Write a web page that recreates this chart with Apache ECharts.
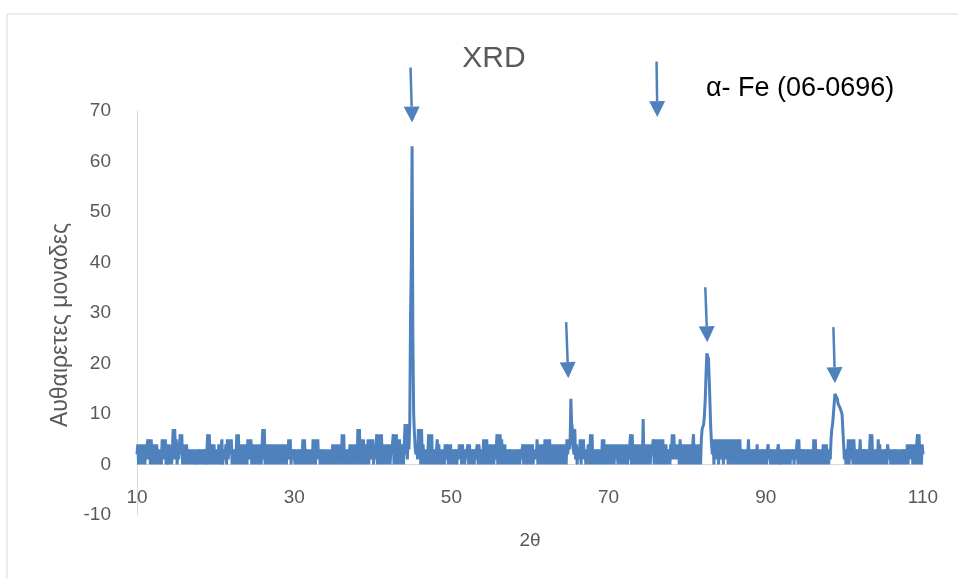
<!DOCTYPE html>
<html>
<head>
<meta charset="utf-8">
<title>XRD</title>
<script src="https://cdn.jsdelivr.net/npm/echarts@6/dist/echarts.min.js"></script>
<style>
  html, body { margin: 0; padding: 0; background: #fff; }
  #chart { width: 958px; height: 579px; }
</style>
</head>
<body>
<div id="chart"></div>
<script>
// 2θ scan: starts at 10°, one reading every 0.1°
var startAngle = 10;
var stepAngle = 0.1;

// intensity readings, one row = one degree (x.0 ... x.9)
var scan10to30 = [
  2,4,0,3,1,4,0,3,2,4,  0,3,1,4,5,1,5,0,5,2,  0,4,1,3,0,4,2,0,3,1,  3,0,5,2,5,1,5,0,4,1,
  0,4,2,3,0,3,7,1,7,2,  5,0,3,1,4,6,2,6,0,4,  1,3,0,4,2,3,0,3,1,3,  0,3,1,2,0,3,1,0,3,2,
  0,3,1,3,0,2,3,0,1,3,  6,0,6,1,3,0,4,2,4,0,  3,1,3,0,4,2,0,3,5,0,  0,3,1,4,0,5,1,3,5,2,
  5,0,3,1,3,0,2,6,0,6,  1,4,0,3,2,4,0,3,1,4,  0,5,2,5,1,5,0,4,2,3,  0,4,1,3,0,4,2,4,0,3,
  7,1,7,0,3,1,4,0,4,2,  0,4,1,3,0,4,2,4,0,3,  2,4,0,3,1,4,0,4,2,4,  0,3,1,5,2,5,0,3,1,3
];
var scan30to50 = [
  2,0,3,1,3,0,2,3,0,3,  1,5,0,5,2,3,0,3,1,3,  0,3,2,0,5,1,5,0,5,2,  5,1,3,0,3,2,0,3,1,3,
  0,3,1,2,0,3,1,3,0,4,  1,4,0,3,2,4,0,3,1,4,  0,6,2,6,0,3,1,3,0,3,  2,4,0,4,1,3,0,4,2,3,
  0,7,1,7,0,3,5,0,5,2,  3,0,4,1,5,0,5,2,5,1,  5,0,4,1,3,6,0,6,2,6,  0,6,1,4,0,3,2,4,0,4,
  1,4,0,3,2,4,6,0,6,1,  6,0,5,1,5,0,3,2,4,0,  0,8,2,7,1,8,3,8,29,40, 63,25,10,6,3,2,4,1,7,2,
  7,0,7,1,4,0,3,1,3,0,  2,6,0,6,1,6,0,3,1,3,  0,3,5,0,4,1,3,0,3,1,  3,0,4,1,3,4,0,4,2,4
];
var scan50to70 = [
  0,3,1,3,0,2,3,0,3,1,  4,1,4,0,4,2,3,0,3,1,  3,4,0,4,1,3,0,3,2,0,  3,1,3,4,0,4,2,3,0,3,
  1,5,0,5,2,5,0,3,1,4,  0,4,2,3,0,4,1,3,6,0,  6,0,6,1,5,0,4,1,4,0,  3,1,3,0,2,3,0,3,1,2,
  0,3,1,3,0,2,3,0,3,1,  3,4,0,4,1,4,0,4,2,4,  0,4,1,4,0,3,2,3,1,5,  0,3,1,4,0,4,2,4,0,5,
  2,5,0,5,1,5,0,4,1,4,  0,4,2,4,0,4,1,4,0,4,  1,4,0,4,2,4,0,5,2,5,  3,4,13,8,7,3,2,7,1,4,
  0,3,1,3,5,0,5,2,5,1,  3,0,3,1,4,0,2,6,0,6,  0,3,1,3,0,2,3,0,3,1,  3,0,5,1,5,0,4,2,4,0
];
var scan70to90 = [
  4,1,4,0,3,2,4,0,4,1,  4,4,0,4,2,3,0,4,1,3,  0,4,2,4,0,3,1,4,6,0,  6,1,4,0,3,2,4,0,4,1,
  3,0,4,1,9,0,4,2,3,0,  4,1,4,0,3,2,4,5,0,5,  1,5,0,5,2,4,0,5,1,5,  0,4,2,4,0,3,1,3,0,4,
  2,6,1,6,2,4,1,4,2,3,  0,5,1,4,0,4,2,4,0,3,  1,4,0,4,2,3,0,4,6,0,  4,1,3,0,4,2,4,0,5,7,
  7,8,10,13,18,22,22,21,17,12,  7,4,2,5,0,5,1,5,2,5,  0,5,2,5,1,5,0,5,2,4,  1,5,0,5,2,5,0,4,1,5,
  0,5,2,5,0,5,1,5,0,3,  2,3,0,3,1,3,0,2,5,0,  3,1,3,0,2,3,0,3,1,4,  0,3,1,3,0,2,3,0,3,1
];
var scan90to110 = [
  3,0,3,4,1,3,0,3,2,0,  3,1,3,0,2,3,4,0,3,1,  0,3,1,2,0,3,1,3,0,2,  3,0,3,1,2,3,0,3,1,3,
  5,0,5,1,3,0,3,2,3,0,  3,1,3,0,2,3,0,3,1,3,  0,5,1,5,0,3,2,3,0,3,  1,3,0,4,1,4,0,4,2,3,
  0,3,1,5,7,8,10,12,14,14,  14,13,12,12,12,11,11,10,7,4,  1,3,0,3,2,5,0,5,1,5,  5,0,5,2,3,0,3,1,3,0,
  5,1,3,0,3,2,3,0,3,1,  3,0,3,6,0,6,1,3,0,3,  1,3,0,5,2,4,0,3,1,3,  0,3,2,3,0,4,4,1,3,0,
  3,1,3,0,2,3,0,3,1,2,  0,3,1,3,0,2,3,0,3,1,  4,0,4,2,4,1,4,0,4,2,  4,0,4,6,0,6,1,4,0,4,
  2
];

// axis ticks
var xTicks = [10, 30, 50, 70, 90, 110];
var yTicks = [-10, 0, 10, 20, 30, 40, 50, 60, 70];

// marker arrows [2θ top, y top, 2θ tip, y tip]
var peakArrows = [
  [44.8, 78.6, 45.0, 67.7],
  [76.1, 79.8, 76.2, 68.8],
  [64.6, 28.2, 64.87, 17.1],
  [82.3, 35.1, 82.56, 24.2],
  [98.6, 27.2, 98.8, 16.1]
];
var legendText = 'α- Fe (06-0696)';

var lineColor = '#4f81bd';
var fontFam = "'Liberation Sans', sans-serif";

var counts = scan10to30.concat(scan30to50, scan50to70, scan70to90, scan90to110);
var points = [];
for (var i = 0; i < counts.length; i++) {
  points.push([+(startAngle + i * stepAngle).toFixed(1), counts[i]]);
}

var gridTop = 111, gridBottom = 64;
var gridH = 579 - gridTop - gridBottom;
// pixels between y=-10 (grid bottom) and y=0, where Excel puts the x axis
var zeroOffset = gridH * (0 - yTicks[0]) / (yTicks[yTicks.length - 1] - yTicks[0]);

var myChart = echarts.init(document.getElementById('chart'), null, {renderer: 'canvas'});

var option = {
  animation: false,
  backgroundColor: '#fff',
  title: {
    text: 'XRD',
    left: 489,
    top: 39,
    textAlign: 'center',
    textStyle: {color: '#595959', fontSize: 30, fontWeight: 'normal', fontFamily: fontFam}
  },
  grid: {left: 137, right: 35, top: gridTop, bottom: gridBottom, containLabel: false, outerBoundsMode: 'none'},
  xAxis: {
    type: 'value',
    min: xTicks[0],
    max: xTicks[xTicks.length - 1],
    interval: xTicks[1] - xTicks[0],
    offset: -zeroOffset,
    name: '2θ',
    nameLocation: 'middle',
    nameGap: 67,
    nameTextStyle: {color: '#595959', fontSize: 19, fontFamily: fontFam},
    axisLine: {show: true, onZero: false, lineStyle: {color: '#d9d9d9', width: 1}},
    axisTick: {show: false},
    splitLine: {show: false},
    axisLabel: {color: '#595959', fontSize: 19, margin: 24, fontFamily: fontFam}
  },
  yAxis: {
    type: 'value',
    min: yTicks[0],
    max: yTicks[yTicks.length - 1],
    interval: yTicks[1] - yTicks[0],
    name: 'Αυθαιρετες μοναδες',
    nameLocation: 'middle',
    nameGap: 64,
    nameTextStyle: {color: '#595959', fontSize: 23, fontFamily: fontFam, padding: [0, 24, 0, 0]},
    axisLine: {show: true, lineStyle: {color: '#d9d9d9', width: 1}},
    axisTick: {show: false},
    splitLine: {show: false},
    axisLabel: {color: '#595959', fontSize: 19, margin: 26, fontFamily: fontFam}
  },
  series: [{
    type: 'line',
    data: points,
    showSymbol: false,
    sampling: null,
    lineStyle: {color: lineColor, width: 3, join: 'bevel'},
    itemStyle: {color: lineColor},
    clip: false
  }]
};
myChart.setOption(option);

// arrows + legend text + chart border
var gfx = [{
  type: 'rect',
  shape: {x: 7, y: 14, width: 1000, height: 600},
  style: {fill: 'none', stroke: '#d9d9d9', lineWidth: 1},
  silent: true
}, {
  type: 'text',
  left: 706,
  top: 75,
  style: {text: legendText, fill: '#000', fontSize: 27, fontFamily: fontFam}
}];
peakArrows.forEach(function(a){
  var p0 = myChart.convertToPixel({gridIndex: 0}, [a[0], a[1]]);
  var p1 = myChart.convertToPixel({gridIndex: 0}, [a[2], a[3]]);
  var dx = p1[0] - p0[0], dy = p1[1] - p0[1];
  var len = Math.sqrt(dx * dx + dy * dy);
  var ux = dx / len, uy = dy / len;
  var headLen = 16, headHalf = 8;
  var bx = p1[0] - ux * headLen, by = p1[1] - uy * headLen;
  gfx.push({
    type: 'line',
    shape: {x1: p0[0], y1: p0[1], x2: bx, y2: by},
    style: {stroke: lineColor, lineWidth: 2.5},
    silent: true
  });
  gfx.push({
    type: 'polygon',
    shape: {points: [[p1[0], p1[1]], [bx - uy * headHalf, by + ux * headHalf], [bx + uy * headHalf, by - ux * headHalf]]},
    style: {fill: lineColor},
    silent: true
  });
});
myChart.setOption({graphic: gfx});
</script>
</body>
</html>
